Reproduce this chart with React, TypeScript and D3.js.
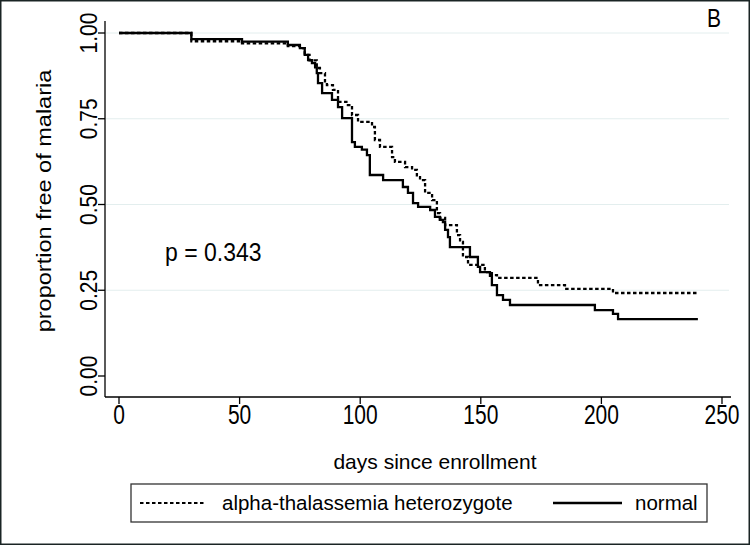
import React from "react";
import * as d3 from "d3";

// ---- data ----
const normalTimes = [0, 30, 51, 70, 75, 77, 78.4, 80, 81.3, 82, 82.5, 84.2, 88.3, 90.8, 92.5, 96.6, 97.8, 100.7, 102.8, 104, 109.5, 117.7, 119.8, 121.9, 124, 129, 131, 133, 134.3, 135.2, 136.4, 137.2, 145.5, 148.8, 149.7, 153.8, 154.6, 156.7, 159.2, 162.1, 197.3, 204.8, 206.9];
const normalSurv = [1, 0.982, 0.975, 0.965, 0.956, 0.936, 0.921, 0.912, 0.9, 0.883, 0.854, 0.825, 0.805, 0.784, 0.752, 0.682, 0.668, 0.66, 0.644, 0.586, 0.571, 0.551, 0.534, 0.504, 0.493, 0.484, 0.464, 0.455, 0.449, 0.426, 0.405, 0.376, 0.347, 0.318, 0.303, 0.292, 0.265, 0.236, 0.222, 0.207, 0.192, 0.181, 0.166];
const alphaTimes = [0, 30, 51, 70, 75, 77, 79, 82, 83.3, 85.4, 86.2, 88.7, 90.8, 94.9, 96.6, 99.1, 104.9, 106.1, 108.2, 113.2, 114.4, 118.6, 121.5, 123.5, 124.8, 126.9, 129.8, 131.8, 133.1, 135.2, 140.1, 141.4, 142.6, 144.7, 151.7, 154.6, 156.7, 173.7, 184.9, 204.8];
const alphaSurv = [1, 0.976, 0.97, 0.962, 0.956, 0.936, 0.92, 0.898, 0.883, 0.854, 0.848, 0.834, 0.799, 0.79, 0.761, 0.741, 0.726, 0.688, 0.668, 0.638, 0.624, 0.609, 0.601, 0.58, 0.571, 0.534, 0.513, 0.475, 0.461, 0.44, 0.411, 0.391, 0.347, 0.324, 0.303, 0.294, 0.286, 0.265, 0.254, 0.242];
const lastDay = 240;

const xTicks = [0, 50, 100, 150, 200, 250];
const yTicks = [0, 0.25, 0.5, 0.75, 1];
const yGrid = [0.25, 0.5, 0.75, 1];
const legendLabels = ["alpha-thalassemia heterozygote", "normal"];
const pText = "p = 0.343";
const panelLetter = "B";

const W = 750;
const H = 545;
const FONT = "'Liberation Sans', Arial, sans-serif";

export default function App() {
  const x = d3.scaleLinear().domain([0, 250]).range([119, 722]);
  const y = d3.scaleLinear().domain([0, 1]).range([376, 33]);

  const stepLine = d3
    .line<[number, number]>()
    .x((d) => x(d[0]))
    .y((d) => y(d[1]))
    .curve(d3.curveStepAfter);

  const mk = (t: number[], s: number[]) => {
    const pts: [number, number][] = t.map((v, i) => [v, s[i]]);
    pts.push([lastDay, s[s.length - 1]]);
    return stepLine(pts) || "";
  };

  const axisX0 = 105;
  const axisY0 = 397;

  return (
    <svg
      width={W}
      height={H}
      style={{ position: "absolute", left: 0, top: 0, background: "#fff" }}
      fontFamily={FONT}
    >
      <rect x={0} y={0} width={W} height={H} fill="#fff" />
      <rect x={0.75} y={0.75} width={W - 1.5} height={H - 1.5} fill="none" stroke="#1a2424" strokeWidth={1.5} />

      {/* grid */}
      {yGrid.map((v) => (
        <line key={"g" + v} x1={axisX0 + 1} x2={729} y1={y(v)} y2={y(v)} stroke="#e3eeee" strokeWidth={1} />
      ))}

      {/* axes */}
      <line x1={axisX0} x2={axisX0} y1={21} y2={axisY0} stroke="#000" strokeWidth={1.3} />
      <line x1={axisX0} x2={731} y1={axisY0} y2={axisY0} stroke="#000" strokeWidth={1.3} />
      {yTicks.map((v) => (
        <g key={"yt" + v}>
          <line x1={axisX0 - 7} x2={axisX0} y1={y(v)} y2={y(v)} stroke="#000" strokeWidth={1.3} />
          <text
            transform={`translate(97,${y(v)}) rotate(-90) scale(1,1.15)`}
            textAnchor="middle"
            fontSize={21}
          >
            {d3.format(".2f")(v)}
          </text>
        </g>
      ))}
      {xTicks.map((v) => (
        <g key={"xt" + v}>
          <line x1={x(v)} x2={x(v)} y1={axisY0} y2={axisY0 + 7} stroke="#000" strokeWidth={1.3} />
          <text transform={`translate(${x(v)},424) scale(1,1.3)`} textAnchor="middle" fontSize={21}>
            {v}
          </text>
        </g>
      ))}

      <text transform="translate(51,201) rotate(-90) scale(1.12,1)" textAnchor="middle" fontSize={21}>
        proportion free of malaria
      </text>
      <text x={435} y={469} textAnchor="middle" fontSize={21}>
        days since enrollment
      </text>
      <text transform="translate(165,261) scale(1,1.1)" fontSize={23}>
        {pText}
      </text>
      <text transform="translate(707,27) scale(1,1.27)" fontSize={21}>
        {panelLetter}
      </text>

      {/* curves */}
      <path d={mk(normalTimes, normalSurv)} fill="none" stroke="#000" strokeWidth={2.3} />
      <path d={mk(alphaTimes, alphaSurv)} fill="none" stroke="#000" strokeWidth={2.3} strokeDasharray="3.5 2.5" />

      {/* legend */}
      <rect x={131} y={484} width={576} height={38} fill="#fff" stroke="#333" strokeWidth={1.3} />
      <line x1={140} x2={204} y1={503} y2={503} stroke="#000" strokeWidth={2} strokeDasharray="3.5 2.5" />
      <text x={222} y={510} fontSize={20.5}>
        {legendLabels[0]}
      </text>
      <line x1={553} x2={622} y1={503} y2={503} stroke="#000" strokeWidth={2.3} />
      <text x={635} y={510} fontSize={20.5}>
        {legendLabels[1]}
      </text>
    </svg>
  );
}
